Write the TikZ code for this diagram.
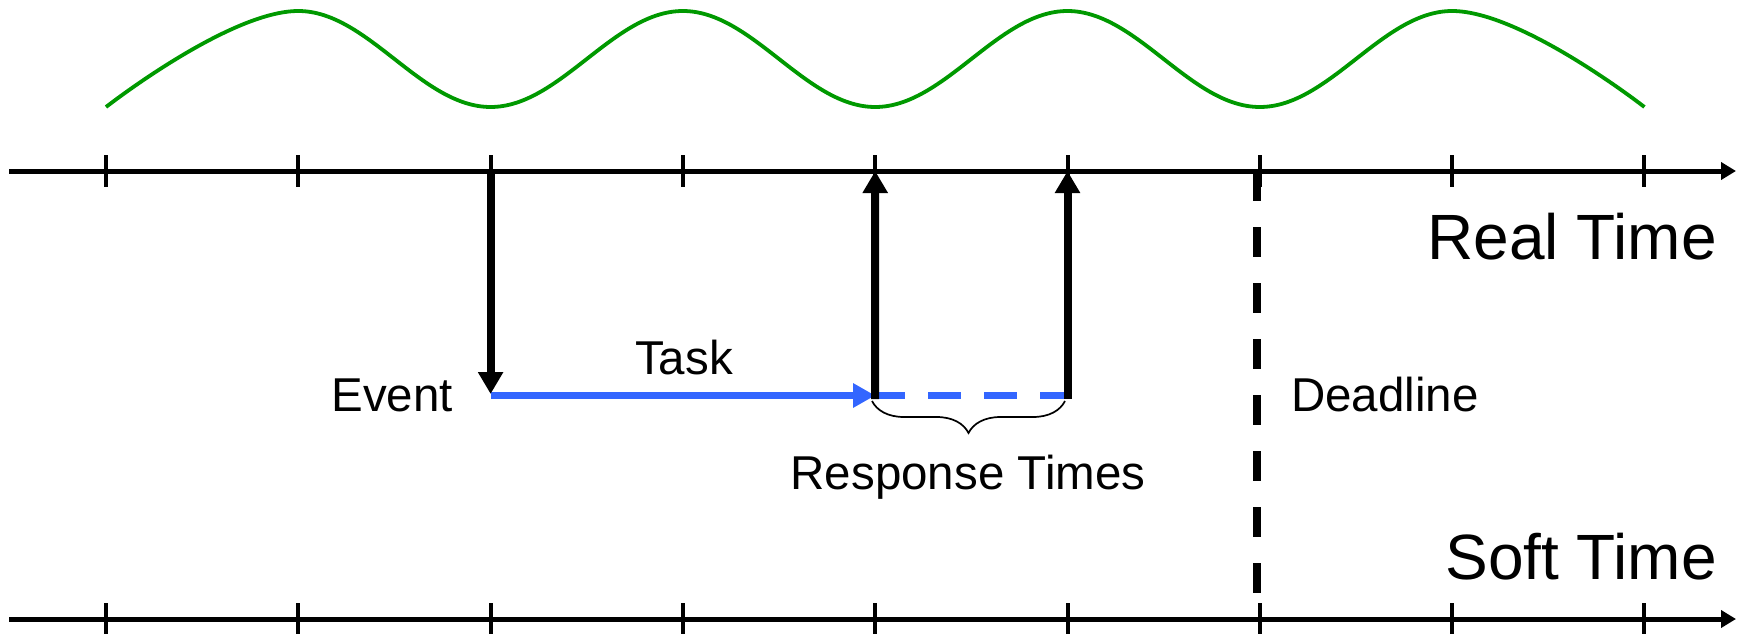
\documentclass[tikz,border=0pt]{standalone}
\usepackage{fontspec}
\setmainfont{Liberation Sans}
\usetikzlibrary{arrows.meta,decorations.pathreplacing,calc}
\definecolor{wavegreen}{RGB}{0,153,0}
\definecolor{taskblue}{RGB}{51,102,255}
\begin{document}
\begin{tikzpicture}[x=1pt,y=-1pt,
  axisline/.style={line width=5pt,-{Triangle[length=15pt,width=17pt]}},
  tickmark/.style={line width=4pt},
  evarrow/.style={line width=8pt,-{Triangle[length=22pt,width=24pt]}},
  taskarrow/.style={taskblue,line width=7.5pt,-{Triangle[length=22pt,width=23pt]}},
  taskdash/.style={taskblue,line width=7.5pt,dash pattern=on 33pt off 23pt},
  deadline/.style={line width=8pt,dash pattern=on 30pt off 26pt},
  wave/.style={wavegreen,line width=3.8pt},
  bracestyle/.style={line width=1.7pt,decorate,decoration={brace,mirror,amplitude=32pt}},
  lbl/.style={inner sep=0pt,font=\fontsize{47.5}{52}\selectfont},
  biglbl/.style={inner sep=0pt,font=\fontsize{64}{70}\selectfont}]
\useasboundingbox (0,0) rectangle (1745,634);

% wave
\draw[wave] plot[smooth,tension=0.65] coordinates {(106,107) (298.3,11) (490.6,107) (682.9,11) (875.2,107) (1067.5,11) (1259.8,107) (1452.1,11) (1644.4,107)};

% axes
\coordinate (ta0) at (9,171);
\coordinate (ta1) at (1736,171);
\coordinate (ba0) at (9,619);
\coordinate (ba1) at (1736,619);
\draw[axisline] (ta0) -- (ta1);
\draw[axisline] (ba0) -- (ba1);
\foreach \i in {0,...,8}{
  \pgfmathsetmacro\tx{106+192.3*\i}
  \coordinate (t\i) at (\tx,171);
  \coordinate (b\i) at (\tx,619);
  \draw[tickmark] (\tx,155) -- (\tx,187);
  \draw[tickmark] (\tx,603) -- (\tx,640);
}

% deadline
\coordinate (d0) at (1257,171);
\coordinate (d1) at (1257,595);
\draw[deadline] (d0) -- (d1);

% event and task
\coordinate (ev) at (490.6,394);
\coordinate (bs) at (490.6,395.5);
\coordinate (be) at (875.2,395.5);
\coordinate (ds) at (872,395.5);
\coordinate (de) at (1067.5,395.5);
\coordinate (r1) at (875.2,399);
\coordinate (r2) at (1067.5,399);
\draw[taskdash] (ds) -- (de);
\draw[taskarrow] (bs) -- (be);
\draw[evarrow] (t2) -- (ev);
\draw[evarrow] (r1) -- (t4);
\draw[evarrow] (r2) -- (t5);

% brace
\coordinate (br0) at (872,401);
\coordinate (br1) at (1065,401);
\draw[bracestyle] (br0) -- (br1);

% labels
\node[lbl,anchor=base east] (event) at (453,411) {Event};
\node[lbl,anchor=base] (task) at (684,374) {Task};
\node[lbl,anchor=base west] (dl) at (1291,411) {Deadline};
\node[lbl,anchor=base] (resp) at (968,489) {Response Times};
\node[biglbl,anchor=base east] (real) at (1717,259) {Real Time};
\node[biglbl,anchor=base east] (soft) at (1717,579) {Soft Time};
\end{tikzpicture}
\end{document}
